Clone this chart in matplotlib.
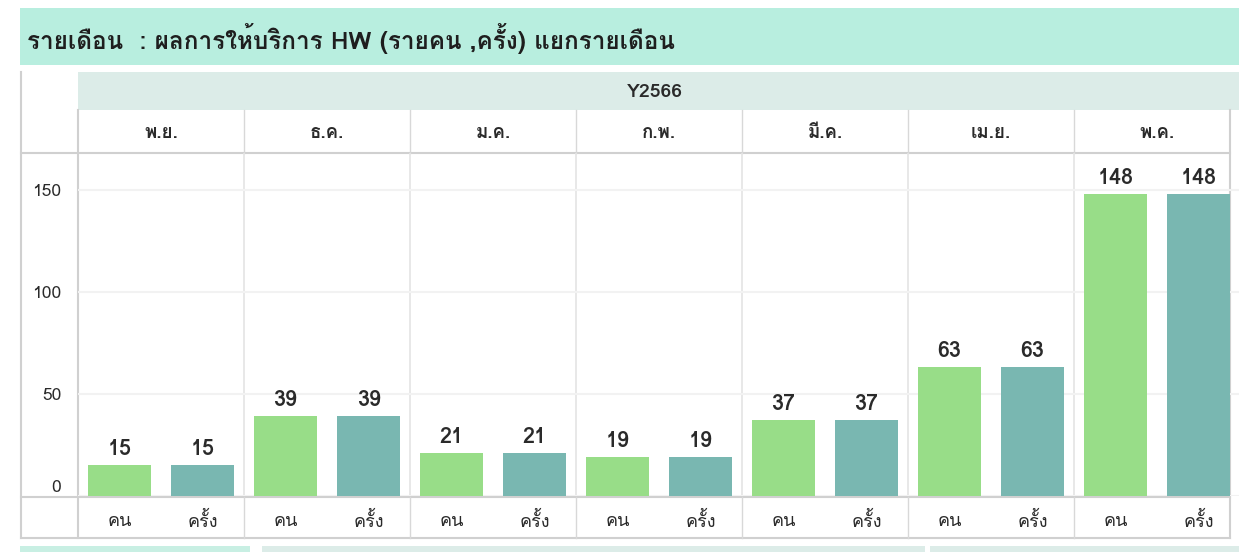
import matplotlib
matplotlib.use("Agg")
import matplotlib.pyplot as plt
from matplotlib import font_manager
from matplotlib.ft2font import FT2Font
import numpy as np

# data
months = ['พ.ย.', 'ธ.ค.', 'ม.ค.', 'ก.พ.', 'มี.ค.', 'เม.ย.', 'พ.ค.']
series_names = ['คน', 'ครั้ง']
persons = [15, 39, 21, 19, 37, 63, 148]
visits = [15, 39, 21, 19, 37, 63, 148]
year_label = 'Y2566'
title = 'รายเดือน  : ผลการให้บริการ HW (รายคน ,ครั้ง) แยกรายเดือน'
yticks = [0, 50, 100, 150]

GREEN = '#98dd88'
TEAL = '#79b7b1'


def find_thai_font():
    """look for any installed font with thai glyphs"""
    for f in font_manager.fontManager.ttflist:
        try:
            ft = FT2Font(f.fname)
            if ft.get_char_index(0x0E01) and ft.get_char_index(0x0E04):
                return f.name
        except Exception:
            continue
    return None


thai = find_thai_font()
fams = [thai, 'DejaVu Sans'] if thai else ['DejaVu Sans']
plt.rcParams['font.family'] = fams

W, H = 1239, 552
fig = plt.figure(figsize=(W / 100, H / 100), dpi=100)


def px(x0, y0, x1, y1):
    # pixel box (top-left origin) -> figure rect
    return [x0 / W, 1 - y1 / H, (x1 - x0) / W, (y1 - y0) / H]


bg = fig.add_axes([0, 0, 1, 1])
bg.set_xlim(0, W)
bg.set_ylim(H, 0)
bg.axis('off')

TXT = '#2a2a2a'
LINE = '#d0d0d0'

# title bar
bg.add_patch(plt.Rectangle((20, 8), 1219, 57, color='#b8eedf', lw=0))
bg.text(27, 39, title, fontsize=17.5, fontweight='bold', va='center', ha='left', color='#1e1e1e')
# year header
bg.add_patch(plt.Rectangle((78, 72), 1161, 38, color='#dcece8', lw=0))
bg.text(655, 92, year_label, fontsize=14, fontweight='bold', va='center', ha='center', color=TXT)
# outer frame of table
bg.plot([21, 21], [72, 538], color=LINE, lw=1.5)
bg.plot([1230, 1230], [110, 538], color=LINE, lw=1.5)
bg.plot([21, 1230], [538, 538], color=LINE, lw=1.5)
bg.plot([21, 1230], [153, 153], color=LINE, lw=1.5)
bg.plot([21, 1230], [497, 497], color=LINE, lw=1.5)
bg.plot([78, 78], [110, 538], color=LINE, lw=1.5)
# bottom strips of the next panel
bg.add_patch(plt.Rectangle((20, 546), 230, 8, color='#c8efe3', lw=0))
bg.add_patch(plt.Rectangle((262, 546), 663, 8, color='#dcece8', lw=0))
bg.add_patch(plt.Rectangle((930, 546), 309, 8, color='#dcece8', lw=0))

# month header + month separators
gw = 166
for i, m in enumerate(months):
    xc = 78 + gw * (i + 0.5)
    bg.text(xc, 133, m, fontsize=13.5, fontweight='bold', ha='center', va='center', color=TXT)
    if i < len(months) - 1:
        for y0, y1 in [(110, 153), (497, 538)]:
            bg.plot([78 + gw * (i + 1)] * 2, [y0, y1], color='#d8d8d8', lw=1)
    for j, s in enumerate(series_names):
        bg.text(78 + gw * i + gw * (0.25 + 0.5 * j), 521, s, fontsize=13, ha='center', va='center',
                color=TXT)

# main bar axes
ax = fig.add_axes(px(78, 153, 78 + gw * len(months), 496))
x = np.arange(len(months))
bw = 0.375
ax.bar(x - 0.25, persons, width=bw, color=GREEN, zorder=3)
ax.bar(x + 0.25, visits, width=bw, color=TEAL, zorder=3)
for xi, p, v in zip(x, persons, visits):
    ax.text(xi - 0.25, p + 3, str(p), ha='center', va='bottom', fontsize=15.5, fontweight='bold', color=TXT)
    ax.text(xi + 0.25, v + 3, str(v), ha='center', va='bottom', fontsize=15.5, fontweight='bold', color=TXT)

ax.set_xlim(-0.5, len(months) - 0.5)
ax.set_ylim(0, 168)
ax.set_yticks(yticks)
ax.set_yticklabels([str(t) for t in yticks], fontsize=12.5, color=TXT)
ax.get_yticklabels()[0].set_va('bottom')
ax.tick_params(axis='y', length=0, pad=12)
ax.tick_params(axis='x', length=0, labelbottom=False)
ax.grid(axis='y', color='#f2f2f2', lw=1.5, zorder=0)
for i in range(1, len(months)):
    ax.axvline(i - 0.5, color='#e4e4e4', lw=1.2, zorder=1)
for sp in ax.spines.values():
    sp.set_visible(False)
ax.patch.set_alpha(0)

fig.savefig('out.png', dpi=100)
